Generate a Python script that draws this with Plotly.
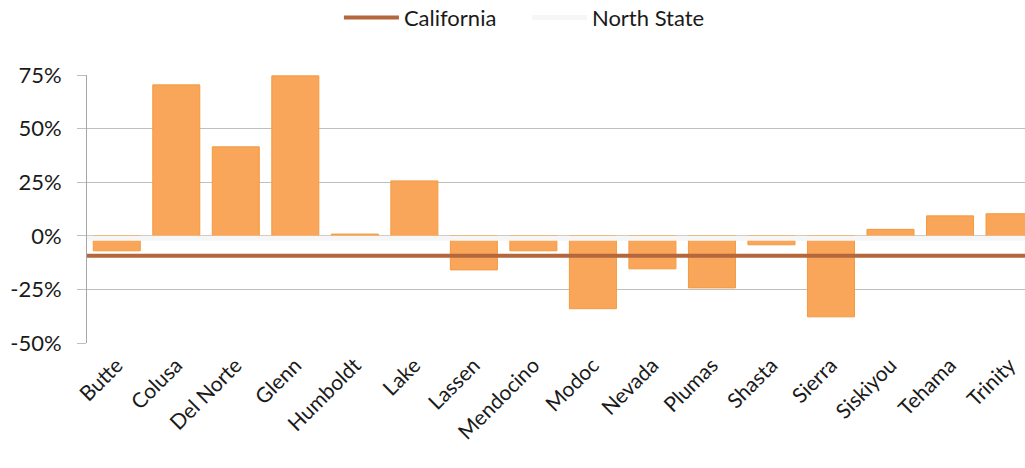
import plotly.graph_objects as go

counties = ["Butte", "Colusa", "Del Norte", "Glenn", "Humboldt", "Lake", "Lassen",
            "Mendocino", "Modoc", "Nevada", "Plumas", "Shasta", "Sierra", "Siskiyou",
            "Tehama", "Trinity"]
county_change = [-7.0, 70.4, 41.5, 74.6, 0.8, 25.6, -15.9, -7.0, -34.0, -15.4,
                 -24.3, -4.2, -37.8, 3.0, 9.3, 10.3]
california_value = -9.3
north_state_value = -1.2
y_ticks = [-50, -25, 0, 25, 50, 75]
y_tick_labels = ["-50%", "-25%", "0%", "25%", "50%", "75%"]

FONT = "Lato"

fig = go.Figure()
fig.add_trace(go.Bar(
    x=counties, y=county_change, showlegend=False,
    marker=dict(color="#F9A65A", line=dict(color="#F39A3F", width=1)),
))
fig.add_trace(go.Scatter(
    x=[0, 1], y=[california_value, california_value], xaxis="x2",
    mode="lines", name="California",
    line=dict(color="#B4663C", width=4),
))
fig.add_trace(go.Scatter(
    x=[0, 1], y=[north_state_value, north_state_value], xaxis="x2",
    mode="lines", name="North State",
    line=dict(color="#F6F6F6", width=5),
))

fig.update_layout(
    width=1025, height=468,
    margin=dict(l=87, r=0, t=75, b=125, autoexpand=False),
    paper_bgcolor="white", plot_bgcolor="white",
    font=dict(family=FONT, size=21, color="#1a1a1a"),
    bargap=0.21,
    legend=dict(orientation="h", x=0.469, xanchor="center",
                yref="container", y=0.962, yanchor="middle",
                font=dict(size=22), itemwidth=55, entrywidth=118, entrywidthmode="pixels"),
    xaxis=dict(
        type="category", range=[-0.5, 15.26], tickangle=-45,
        showgrid=False, showline=False, ticks="", ticklabelstandoff=5,
        tickfont=dict(size=21),
    ),
    xaxis2=dict(overlaying="x", range=[0, 1], visible=False, fixedrange=True),
    yaxis=dict(
        range=[-50, 75], tickvals=y_ticks, ticktext=y_tick_labels,
        showgrid=True, gridcolor="#BFBFBF", gridwidth=1,
        zeroline=False, showline=True, linecolor="#A6A6A6", linewidth=1,
        ticks="outside", ticklen=9, tickcolor="#BFBFBF",
        tickfont=dict(size=22), ticklabelstandoff=11,
    ),
)

fig.write_html("out.html")
